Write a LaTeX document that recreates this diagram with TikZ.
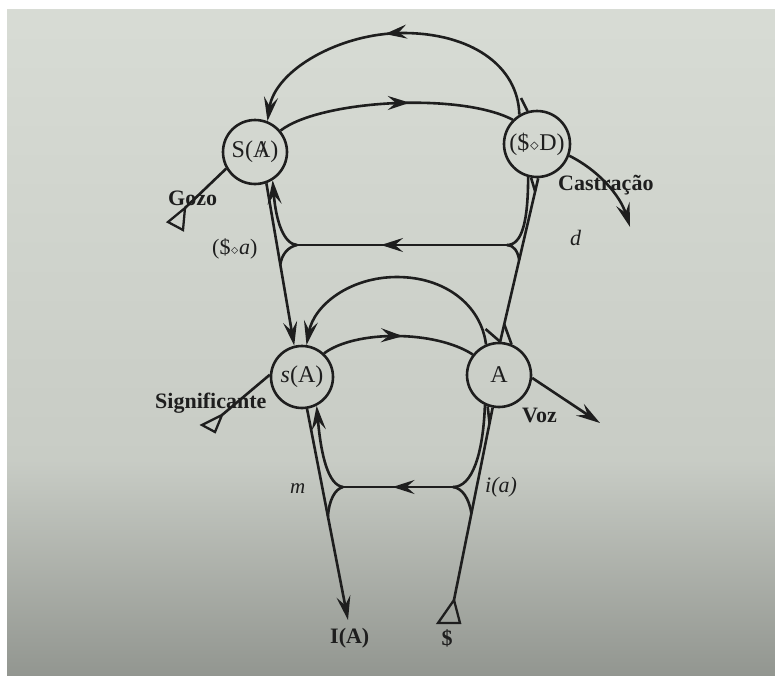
\documentclass[tikz,border=0pt]{standalone}
\usepackage{fontspec}
\setmainfont{Liberation Serif}
\usetikzlibrary{arrows.meta,decorations.markings,calc}
\definecolor{bgA}{RGB}{216,220,213}
\definecolor{bgB}{RGB}{200,204,197}
\definecolor{bgC}{RGB}{145,149,143}
\definecolor{ink}{RGB}{30,30,30}
\newcommand\slashA{\ooalign{A\cr\hidewidth\kern0.08em/\hidewidth\cr}}
\newcommand\smalldia{\kern0.03em$\scriptstyle\diamond$\kern0.03em}
\tikzset{
  conn/.style={draw=ink, line width=2.6pt},
  tipend/.style={-{Stealth[length=24pt,width=14pt,inset=9pt]}},
  midarrow/.style={postaction={decorate},
    decoration={markings, mark=at position #1 with {\arrow{Stealth[length=22pt,width=14pt,inset=8pt]}}}},
  place/.style={circle, draw=ink, line width=2.6pt, inner sep=0pt, text=ink,
    font=\fontsize{24}{26}\selectfont},
  lbl/.style={font=\fontsize{22}{24}\selectfont\bfseries, text=ink, inner sep=0pt},
  ilbl/.style={font=\fontsize{22}{24}\selectfont\itshape, text=ink, inner sep=0pt},
  rlbl/.style={font=\fontsize{22}{24}\selectfont, text=ink, inner sep=0pt},
  tri/.style={draw=ink, line width=2.3pt, line join=miter},
}
\begin{document}
\begin{tikzpicture}[x=1pt,y=-1pt]
\useasboundingbox (0,0) rectangle (775,675);
% background
\shade[top color=bgA, bottom color=bgB] (-5,-5) rectangle (780,460);
\shade[top color=bgB, bottom color=bgC] (-5,460) rectangle (780,680);
\fill[white] (-5,-5) rectangle (780,9);
\fill[white] (-5,-5) rectangle (7,680);

% places
\node[place, minimum size=64pt] (SA) at (255,152) {S(\slashA)};
\node[place, minimum size=66pt] (SD) at (537,144) {(\$\smalldia D)};
\node[place, minimum size=62pt] (sA) at (302,377) {\textit{s}(A)};
\node[place, minimum size=64pt] (A) at (499,375) {A};

% free ends
\coordinate (JR1) at (507,245);
\coordinate (JL1) at (297,245);
\coordinate (JR2) at (453,487);
\coordinate (JL2) at (343,487);
\coordinate (lAtip) at (348,620);
\coordinate (dtri) at (454,600);
\coordinate (gtri) at (185,208);
\coordinate (stri) at (222,415);
\coordinate (ctip) at (630,227);
\coordinate (vtip) at (600,423);
\coordinate (apex) at (403,33);

% big top arc
\draw[conn, tipend, midarrow=0.53] (SD.121) .. controls (518,65) and (470,33) .. (apex)
   .. controls (340,33) and (275,70) .. (SA.68);
\draw[conn] (521,98) -- (SD.106);
% upper arc S(A) -> ($<>D)
\draw[conn, midarrow=0.56] (SA.40) .. controls (320,100) and (460,92) .. (SD.135);

% upper level
\draw[conn, tipend] (SA.-70) -- (sA.104);
\draw[conn, midarrow=0.6] (JR1) -- (JL1);
\draw[conn, tipend] (JL1) .. controls (284,244) and (276,222) .. (SA.-58);
\draw[conn] (JL1) .. controls (288,247) and (282,254) .. ($(SA.-70)!0.5!(sA.104)$);
\draw[conn] (JR1) .. controls (522,245) and (528,222) .. (SD.-105);
\draw[conn] (SD.-88) -- (A.88);
\draw[conn] (JR1) .. controls (514,245) and (518,252) .. ($(SD.-88)!0.5!(A.88)$);
\draw[conn] (SD.-100) -- ($(SD.-88)!0.08!(A.88)$);

% middle arc A -> s(A)
\draw[conn, tipend] (A.113) .. controls (481,305) and (445,277) .. (397,277)
   .. controls (350,277) and (314,305) .. (sA.82);
\draw[conn] (485.5,329) -- (A.88);
\draw[conn] ($(SD.-88)!0.893!(A.88)$) -- (A.68);

% lower arc s(A) -> A
\draw[conn, midarrow=0.53] (sA.47) .. controls (355,330) and (435,330) .. (A.142);

% lower level
\draw[conn, tipend] (sA.-81) -- (lAtip);
\draw[conn, midarrow=0.55] (JR2) -- (JL2);
\draw[conn, tipend] (JL2) .. controls (328,485) and (321,455) .. (sA.-63);
\draw[conn] (JL2) .. controls (335,489) and (329,500) .. ($(sA.-81)!0.51!(lAtip)$);
\draw[conn] (JR2) .. controls (472,487) and (483,455) .. (A.-115);
\draw[conn] (A.-101) -- (dtri);
\draw[conn] (JR2) .. controls (462,488) and (469,498) .. ($(A.-101)!0.55!(dtri)$);
\draw[conn] (A.-110) -- ($(A.-101)!0.08!(dtri)$);
\draw[tri] (dtri) -- (438,623) -- (460,623) -- cycle;

% side arms
\draw[conn] (SA.-150) -- (gtri);
\draw[tri] (gtri) -- (168,222) -- (183,230) -- cycle;
\draw[conn] (sA.176) -- (stri);
\draw[tri] (stri) -- (202,425) -- (215,432) -- cycle;
\draw[conn, tipend] (SD.-20) .. controls (598,170) and (620,195) .. (ctip);
\draw[conn, tipend] (A.-5) -- (vtip);

% labels
\node[lbl, anchor=base west] (lgozo) at (168,205) {Gozo};
\node[lbl, anchor=base west] (lcast) at (558,190) {Castração};
\node[lbl, anchor=base west] (lsig) at (155,408) {Significante};
\node[lbl, anchor=base west] (lvoz) at (522,422) {Voz};
\node[rlbl, anchor=base west] (lsa) at (212,254) {(\$\smalldia\textit{a})};
\node[ilbl, anchor=base west] (ld) at (570,245) {d};
\node[ilbl, anchor=base west, font=\fontsize{21}{23}\selectfont\itshape] (lm) at (290,493) {m};
\node[ilbl, anchor=base west] (lia) at (485,492) {i(a)};
\node[lbl, anchor=base west] (lIA) at (330,643) {I(A)};
\node[lbl, anchor=base] (ldollar) at (447,645) {\$};
\end{tikzpicture}
\end{document}
